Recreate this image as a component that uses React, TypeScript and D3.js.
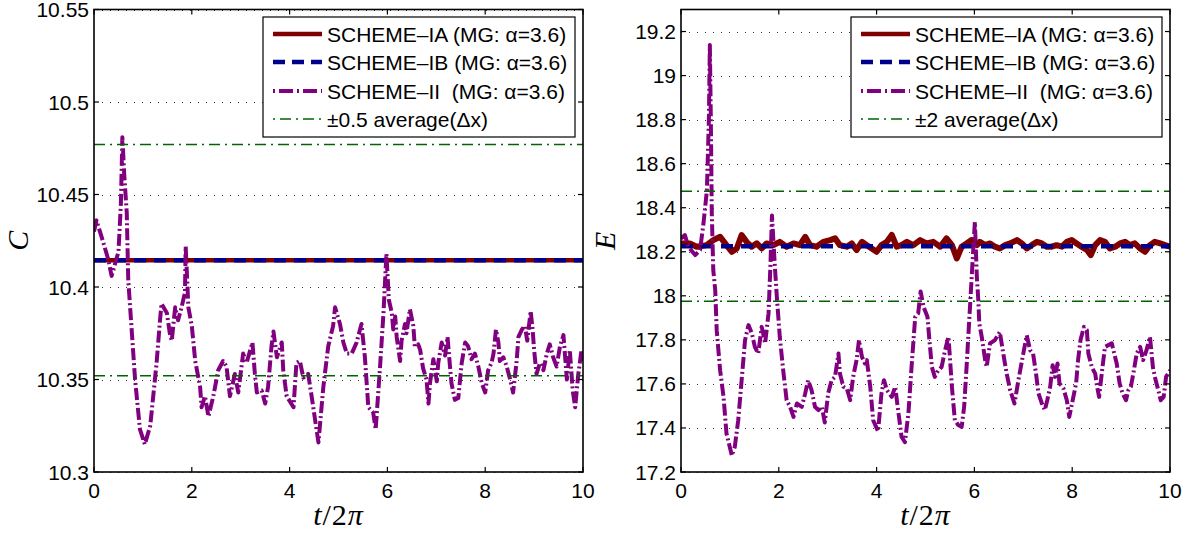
import React from 'react';
import * as d3 from 'd3';

// ---------- shared ----------
const xTicks = [0, 2, 4, 6, 8, 10];
const xTickLabels = ['0', '2', '4', '6', '8', '10'];
const legendIA = 'SCHEME\u2013IA (MG: \u03b1=3.6)';
const legendIB = 'SCHEME\u2013IB (MG: \u03b1=3.6)';
const legendII = 'SCHEME\u2013II  (MG: \u03b1=3.6)';

// ---------- left panel (C) ----------
const cTicks = [10.3, 10.35, 10.4, 10.45, 10.5, 10.55];
const cTickLabels = ['10.3', '10.35', '10.4', '10.45', '10.5', '10.55'];
const cIAT = [0, 10];
const cIAV = [10.4145, 10.4145];
const cIBT = [0, 10];
const cIBV = [10.4145, 10.4145];
const cBandHi = 10.477;
const cBandLo = 10.352;
const cLegendBand = '\u00b10.5 average(\u0394x)';
const cIIT = [0, 0.05, 0.18, 0.29, 0.36, 0.5, 0.55, 0.58, 0.62, 0.67, 0.7, 0.77, 0.84, 0.94, 1.04, 1.15, 1.28, 1.35, 1.38, 1.49, 1.55, 1.59, 1.66, 1.72, 1.79, 1.86, 1.875, 1.93, 2.0, 2.07, 2.17, 2.2, 2.27, 2.34, 2.44, 2.54, 2.64, 2.71, 2.78, 2.88, 2.95, 3.05, 3.12, 3.24, 3.29, 3.33, 3.43, 3.5, 3.56, 3.63, 3.67, 3.74, 3.84, 3.87, 3.94, 4.08, 4.14, 4.21, 4.28, 4.38, 4.45, 4.59, 4.69, 4.79, 4.89, 4.93, 5.03, 5.1, 5.17, 5.27, 5.37, 5.47, 5.54, 5.61, 5.71, 5.76, 5.85, 5.92, 5.98, 6.02, 6.03, 6.09, 6.12, 6.16, 6.19, 6.26, 6.29, 6.36, 6.39, 6.46, 6.53, 6.56, 6.63, 6.67, 6.73, 6.8, 6.84, 6.87, 6.94, 7.01, 7.04, 7.11, 7.18, 7.23, 7.28, 7.31, 7.38, 7.45, 7.52, 7.59, 7.65, 7.72, 7.79, 7.86, 7.93, 8.0, 8.06, 8.13, 8.17, 8.22, 8.27, 8.3, 8.37, 8.44, 8.51, 8.57, 8.64, 8.68, 8.75, 8.81, 8.86, 8.93, 8.97, 9.0, 9.05, 9.12, 9.19, 9.26, 9.32, 9.39, 9.46, 9.53, 9.6, 9.67, 9.73, 9.79, 9.84, 9.9, 9.97, 10.0];
const cIIV = [10.43, 10.436, 10.425, 10.415, 10.406, 10.419, 10.445, 10.481, 10.46, 10.44, 10.404, 10.377, 10.35, 10.323, 10.315, 10.325, 10.359, 10.382, 10.391, 10.386, 10.375, 10.371, 10.389, 10.382, 10.389, 10.397, 10.422, 10.389, 10.379, 10.36, 10.346, 10.335, 10.341, 10.33, 10.341, 10.355, 10.36, 10.357, 10.341, 10.353, 10.343, 10.364, 10.359, 10.37, 10.353, 10.343, 10.344, 10.337, 10.346, 10.368, 10.376, 10.362, 10.37, 10.355, 10.341, 10.335, 10.359, 10.36, 10.351, 10.353, 10.341, 10.316, 10.346, 10.368, 10.379, 10.389, 10.38, 10.37, 10.364, 10.364, 10.37, 10.38, 10.362, 10.335, 10.332, 10.323, 10.357, 10.386, 10.418, 10.398, 10.393, 10.386, 10.377, 10.384, 10.373, 10.36, 10.371, 10.38, 10.375, 10.388, 10.379, 10.368, 10.369, 10.366, 10.356, 10.35, 10.337, 10.348, 10.361, 10.349, 10.359, 10.37, 10.363, 10.373, 10.357, 10.348, 10.339, 10.34, 10.359, 10.37, 10.368, 10.361, 10.364, 10.357, 10.348, 10.343, 10.355, 10.359, 10.364, 10.377, 10.37, 10.36, 10.362, 10.357, 10.35, 10.343, 10.359, 10.373, 10.377, 10.379, 10.371, 10.387, 10.377, 10.366, 10.353, 10.359, 10.355, 10.364, 10.369, 10.362, 10.357, 10.368, 10.374, 10.35, 10.366, 10.344, 10.335, 10.352, 10.366, 10.36];

// ---------- right panel (E) ----------
const eTicks = [17.2, 17.4, 17.6, 17.8, 18, 18.2, 18.4, 18.6, 18.8, 19, 19.2];
const eTickLabels = ['17.2', '17.4', '17.6', '17.8', '18', '18.2', '18.4', '18.6', '18.8', '19', '19.2'];
const eIBT = [0, 10];
const eIBV = [18.225, 18.225];
const eBandHi = 18.475;
const eBandLo = 17.975;
const eLegendBand = '\u00b12 average(\u0394x)';
const eIAT = [0, 0.18, 0.32, 0.525, 0.66, 0.8, 0.93, 1.04, 1.14, 1.24, 1.34, 1.445, 1.55, 1.65, 1.75, 1.89, 2.02, 2.16, 2.3, 2.43, 2.54, 2.64, 2.77, 2.91, 3.05, 3.15, 3.25, 3.39, 3.49, 3.59, 3.7, 3.8, 3.9, 4.0, 4.1, 4.21, 4.31, 4.41, 4.51, 4.62, 4.75, 4.89, 5.02, 5.16, 5.3, 5.43, 5.54, 5.64, 5.74, 5.84, 5.94, 6.05, 6.11, 6.22, 6.32, 6.42, 6.52, 6.63, 6.73, 6.87, 6.97, 7.07, 7.17, 7.28, 7.38, 7.48, 7.58, 7.68, 7.79, 7.89, 7.99, 8.09, 8.19, 8.3, 8.38, 8.47, 8.57, 8.67, 8.77, 8.88, 8.98, 9.08, 9.18, 9.28, 9.39, 9.49, 9.59, 9.69, 9.8, 9.9, 10.0];
const eIAV = [18.238, 18.238, 18.223, 18.23, 18.253, 18.268, 18.23, 18.2, 18.215, 18.276, 18.245, 18.223, 18.238, 18.215, 18.238, 18.23, 18.245, 18.223, 18.238, 18.23, 18.268, 18.23, 18.223, 18.245, 18.253, 18.261, 18.23, 18.223, 18.238, 18.208, 18.245, 18.23, 18.215, 18.2, 18.23, 18.245, 18.276, 18.223, 18.23, 18.245, 18.23, 18.253, 18.238, 18.245, 18.223, 18.261, 18.23, 18.17, 18.223, 18.238, 18.253, 18.23, 18.245, 18.23, 18.238, 18.223, 18.215, 18.23, 18.238, 18.253, 18.238, 18.215, 18.23, 18.245, 18.238, 18.223, 18.223, 18.23, 18.223, 18.245, 18.253, 18.238, 18.223, 18.208, 18.185, 18.23, 18.253, 18.245, 18.215, 18.223, 18.238, 18.245, 18.23, 18.238, 18.215, 18.2, 18.23, 18.245, 18.238, 18.23, 18.223];
const eIIT = [0, 0.08, 0.15, 0.29, 0.39, 0.46, 0.53, 0.57, 0.59, 0.61, 0.63, 0.66, 0.7, 0.73, 0.8, 0.87, 0.93, 1.04, 1.1, 1.17, 1.24, 1.31, 1.38, 1.45, 1.51, 1.58, 1.65, 1.72, 1.79, 1.83, 1.86, 1.92, 1.96, 2.02, 2.09, 2.16, 2.23, 2.3, 2.37, 2.47, 2.54, 2.6, 2.67, 2.74, 2.81, 2.88, 2.94, 3.01, 3.08, 3.15, 3.22, 3.25, 3.32, 3.39, 3.46, 3.52, 3.59, 3.64, 3.7, 3.76, 3.8, 3.87, 3.93, 4.03, 4.1, 4.15, 4.21, 4.31, 4.38, 4.44, 4.51, 4.58, 4.65, 4.72, 4.79, 4.85, 4.9, 4.96, 5.04, 5.08, 5.13, 5.19, 5.26, 5.33, 5.4, 5.47, 5.54, 5.6, 5.67, 5.74, 5.79, 5.84, 5.91, 5.98, 6.01, 6.05, 6.08, 6.1, 6.15, 6.22, 6.25, 6.32, 6.42, 6.52, 6.59, 6.66, 6.73, 6.82, 6.9, 7.0, 7.07, 7.14, 7.2, 7.26, 7.31, 7.38, 7.44, 7.49, 7.55, 7.6, 7.65, 7.7, 7.74, 7.82, 7.89, 7.94, 8.01, 8.08, 8.12, 8.17, 8.24, 8.3, 8.33, 8.4, 8.47, 8.51, 8.55, 8.62, 8.67, 8.74, 8.81, 8.86, 8.91, 8.97, 9.03, 9.1, 9.15, 9.2, 9.25, 9.32, 9.39, 9.45, 9.52, 9.59, 9.65, 9.69, 9.76, 9.81, 9.87, 9.92, 10.0];
const eIIV = [18.26, 18.276, 18.223, 18.185, 18.208, 18.329, 18.48, 18.8, 19.139, 18.8, 18.374, 18.117, 18.026, 17.844, 17.662, 17.541, 17.375, 17.275, 17.314, 17.435, 17.617, 17.799, 17.867, 17.829, 17.768, 17.738, 17.859, 17.784, 17.92, 18.147, 18.365, 18.132, 17.995, 17.814, 17.662, 17.526, 17.496, 17.45, 17.511, 17.496, 17.557, 17.617, 17.572, 17.496, 17.481, 17.496, 17.425, 17.557, 17.617, 17.632, 17.738, 17.647, 17.587, 17.58, 17.526, 17.632, 17.708, 17.799, 17.723, 17.693, 17.708, 17.587, 17.435, 17.385, 17.557, 17.617, 17.572, 17.541, 17.587, 17.481, 17.36, 17.335, 17.466, 17.693, 17.905, 17.92, 18.02, 17.95, 17.905, 17.799, 17.677, 17.632, 17.662, 17.677, 17.753, 17.814, 17.587, 17.435, 17.413, 17.405, 17.496, 17.677, 17.95, 18.223, 18.336, 18.086, 17.98, 17.875, 17.814, 17.708, 17.677, 17.784, 17.799, 17.836, 17.738, 17.647, 17.572, 17.511, 17.617, 17.738, 17.821, 17.753, 17.738, 17.647, 17.557, 17.511, 17.481, 17.526, 17.587, 17.685, 17.632, 17.693, 17.602, 17.58, 17.526, 17.45, 17.526, 17.602, 17.708, 17.799, 17.859, 17.844, 17.738, 17.677, 17.647, 17.587, 17.541, 17.677, 17.768, 17.776, 17.784, 17.738, 17.693, 17.602, 17.557, 17.526, 17.572, 17.587, 17.647, 17.738, 17.768, 17.708, 17.753, 17.814, 17.677, 17.632, 17.572, 17.526, 17.541, 17.632, 17.662];

const RED = '#800000';
const BLUE = '#00008b';
const PURPLE = '#800080';
const GREEN = '#006400';
const SANS = '"Liberation Sans", Arial, Helvetica, sans-serif';
const SERIF = '"Liberation Serif", "Times New Roman", serif';

type Series = { t: number[]; v: number[] };

function Panel(props: {
  id: string;
  left: number;
  right: number;
  yDomain: [number, number];
  yTicks: number[];
  yTickLabels: string[];
  ia: Series;
  ib: Series;
  ii: Series;
  bandHi: number;
  bandLo: number;
  yLabel: string;
  bandLabel: string;
  legendX: number;
  legendW: number;
  iaWidth: number;
}) {
  const top = 9.5;
  const bottom = 472;
  const x = d3.scaleLinear().domain([0, 10]).range([props.left, props.right]);
  const y = d3.scaleLinear().domain(props.yDomain).range([bottom, top]);
  const line = (s: Series) =>
    d3
      .line<number>()
      .x((_, i) => x(s.t[i]))
      .y((d) => y(d))(s.v) || '';
  const clipId = 'clip-' + props.id;
  const lx = props.legendX;
  const rows = [34, 62, 91, 119];
  const cx = (props.left + props.right) / 2;
  return (
    <g>
      <defs>
        <clipPath id={clipId}>
          <rect x={props.left} y={top} width={props.right - props.left} height={bottom - top} />
        </clipPath>
      </defs>
      {props.yTicks.map((t, i) => (
        <line
          key={'g' + i}
          x1={props.left}
          x2={props.right}
          y1={Math.round(y(t)) + 0.5}
          y2={Math.round(y(t)) + 0.5}
          stroke="#333"
          strokeWidth={1}
          strokeDasharray="1 7"
        />
      ))}
      <g clipPath={`url(#${clipId})`}>
        <path d={line(props.ia)} fill="none" stroke={RED} strokeWidth={props.iaWidth} strokeLinejoin="round" />
        <path d={line(props.ib)} fill="none" stroke={BLUE} strokeWidth={4.5} strokeDasharray="12 8" />
        <path
          d={line(props.ii)}
          fill="none"
          stroke={PURPLE}
          strokeWidth={4}
          strokeDasharray="12 3 2 3"
          strokeLinejoin="round"
        />
        <line x1={props.left} x2={props.right} y1={y(props.bandHi)} y2={y(props.bandHi)} stroke={GREEN} strokeWidth={1.4} strokeDasharray="11 5 2 5" />
        <line x1={props.left} x2={props.right} y1={y(props.bandLo)} y2={y(props.bandLo)} stroke={GREEN} strokeWidth={1.4} strokeDasharray="11 5 2 5" />
      </g>
      <rect x={props.left} y={top} width={props.right - props.left} height={bottom - top} fill="none" stroke="#000" strokeWidth={1.6} />
      {xTicks.map((t, i) => (
        <g key={'x' + i}>
          <line x1={x(t)} x2={x(t)} y1={bottom} y2={bottom - 5} stroke="#000" strokeWidth={1.2} />
          <line x1={x(t)} x2={x(t)} y1={top} y2={top + 5} stroke="#000" strokeWidth={1.2} />
          <text x={x(t)} y={bottom + 26} textAnchor="middle" fontFamily={SANS} fontSize={21} fill="#000">
            {xTickLabels[i]}
          </text>
        </g>
      ))}
      {props.yTicks.map((t, i) => (
        <g key={'y' + i}>
          <line x1={props.left} x2={props.left + 5} y1={y(t)} y2={y(t)} stroke="#000" strokeWidth={1.2} />
          <line x1={props.right} x2={props.right - 5} y1={y(t)} y2={y(t)} stroke="#000" strokeWidth={1.2} />
          <text x={props.left - 5} y={y(t) + 7.5} textAnchor="end" fontFamily={SANS} fontSize={21} fill="#000">
            {props.yTickLabels[i]}
          </text>
        </g>
      ))}
      <text x={cx} y={525} textAnchor="middle" fontFamily={SERIF} fontSize={30} fill="#000" letterSpacing={1}>
        <tspan fontStyle="italic">t</tspan>/2<tspan fontStyle="italic">π</tspan>
      </text>
      <text
        transform={`translate(${props.left - 66},${(top + bottom) / 2}) rotate(-90)`}
        textAnchor="middle"
        fontFamily={SERIF}
        fontStyle="italic"
        fontSize={30}
        fill="#000"
      >
        {props.yLabel}
      </text>
      <rect x={lx} y={17} width={props.legendW} height={120} fill="#fff" stroke="#000" strokeWidth={1.2} />
      <line x1={lx + 10} x2={lx + 59} y1={rows[0]} y2={rows[0]} stroke={RED} strokeWidth={4.5} />
      <line x1={lx + 10} x2={lx + 59} y1={rows[1]} y2={rows[1]} stroke={BLUE} strokeWidth={4.5} strokeDasharray="12 7" />
      <line x1={lx + 10} x2={lx + 59} y1={rows[2]} y2={rows[2]} stroke={PURPLE} strokeWidth={4} strokeDasharray="2 4 14 4" />
      <line x1={lx + 10} x2={lx + 59} y1={rows[3]} y2={rows[3]} stroke={GREEN} strokeWidth={1.4} strokeDasharray="2 5 11 5" />
      {[legendIA, legendIB, legendII, props.bandLabel].map((s, i) => (
        <text key={'l' + i} x={lx + 64} y={rows[i] + 7.5} fontFamily={SANS} fontSize={21} fill="#000" style={{ whiteSpace: 'pre' }}>
          {s}
        </text>
      ))}
    </g>
  );
}

export default function App() {
  return (
    <svg
      width={1189}
      height={538}
      viewBox="0 0 1189 538"
      style={{ position: 'absolute', left: 0, top: 0, background: '#fff' }}
    >
      <rect width={1189} height={538} fill="#fff" />
      <Panel
        id="c"
        left={94}
        right={583}
        yDomain={[10.3, 10.55]}
        yTicks={cTicks}
        yTickLabels={cTickLabels}
        ia={{ t: cIAT, v: cIAV }}
        ib={{ t: cIBT, v: cIBV }}
        ii={{ t: cIIT, v: cIIV }}
        bandHi={cBandHi}
        bandLo={cBandLo}
        yLabel="C"
        bandLabel={cLegendBand}
        legendX={263}
        legendW={312}
        iaWidth={4.5}
      />
      <Panel
        id="e"
        left={681}
        right={1170}
        yDomain={[17.2, 19.3]}
        yTicks={eTicks}
        yTickLabels={eTickLabels}
        ia={{ t: eIAT, v: eIAV }}
        ib={{ t: eIBT, v: eIBV }}
        ii={{ t: eIIT, v: eIIV }}
        bandHi={eBandHi}
        bandLo={eBandLo}
        yLabel="E"
        bandLabel={eLegendBand}
        legendX={851}
        legendW={311}
        iaWidth={6}
      />
    </svg>
  );
}
